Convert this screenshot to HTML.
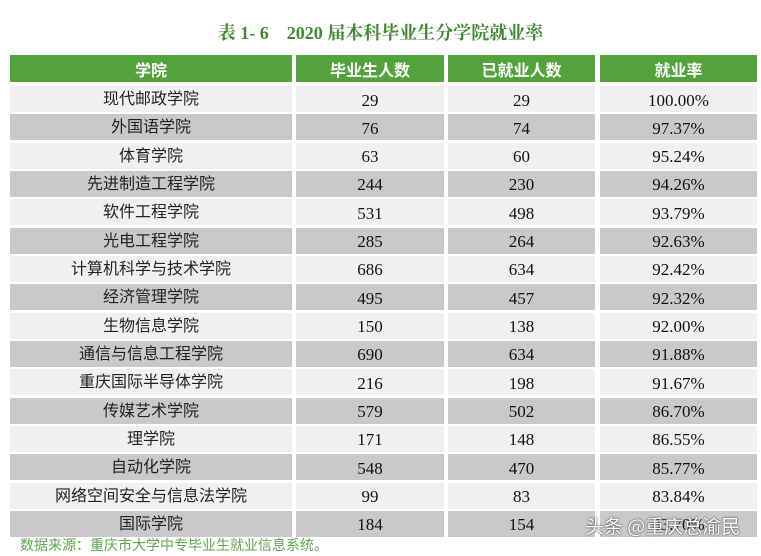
<!DOCTYPE html>
<html><head><meta charset="utf-8"><style>
body{margin:0;width:761px;height:556px;background:#fff;position:relative;overflow:hidden;font-family:"Liberation Serif","Noto Serif CJK SC",serif;}
.t{position:absolute;left:0;width:761px;top:24px;text-align:center;color:#3f8a2f;font-weight:bold;font-size:18px;line-height:1;}
.c{position:absolute;display:flex;align-items:center;justify-content:center;font-size:17px;color:#111;line-height:1;}
.h{background:#53a23c;color:#fff;font-weight:bold;font-family:"Noto Sans CJK SC",sans-serif;font-size:16px;}
.cn{font-family:"Noto Sans CJK SC",sans-serif;font-size:16px;color:#222;}
.cn span{position:relative;top:-3px;}
.f{position:absolute;left:20px;top:538px;color:#5aa84a;font-size:14px;line-height:1;font-family:"Noto Sans CJK SC",sans-serif;}
.w{position:absolute;left:585px;top:516px;color:#fff;font-size:19px;line-height:1;font-family:"Noto Sans CJK SC",sans-serif;text-shadow:0 0 2px #555,0 0 1px #333;}
</style></head><body>
<div class="t">表 1- 6　2020 届本科毕业生分学院就业率</div>
<div id="g"></div>
<div class="f">数据来源：重庆市大学中专毕业生就业信息系统。</div>
<div class="w">头条 @重庆总渝民</div>
<script>
var cols=[[10,282],[296,148],[448,147],[600,157]];
var hd=["学院","毕业生人数","已就业人数","就业率"];
var d=[["现代邮政学院",29,29,"100.00%"],["外国语学院",76,74,"97.37%"],["体育学院",63,60,"95.24%"],["先进制造工程学院",244,230,"94.26%"],["软件工程学院",531,498,"93.79%"],["光电工程学院",285,264,"92.63%"],["计算机科学与技术学院",686,634,"92.42%"],["经济管理学院",495,457,"92.32%"],["生物信息学院",150,138,"92.00%"],["通信与信息工程学院",690,634,"91.88%"],["重庆国际半导体学院",216,198,"91.67%"],["传媒艺术学院",579,502,"86.70%"],["理学院",171,148,"86.55%"],["自动化学院",548,470,"85.77%"],["网络空间安全与信息法学院",99,83,"83.84%"],["国际学院",184,154,"83.70%"]];
var h="";
cols.forEach(function(c,j){h+='<div class="c h" style="left:'+c[0]+'px;top:55px;width:'+c[1]+'px;height:27px">'+hd[j]+'</div>';});
d.forEach(function(r,i){var y=86+i*28.33;var bg=i%2?"#c9c9c9":"#f0f0f0";
cols.forEach(function(c,j){h+='<div class="c'+(j==0?' cn':'')+'" style="left:'+c[0]+'px;top:'+y+'px;width:'+c[1]+'px;height:26px;padding-top:2px;box-sizing:border-box;background:'+bg+'"><span>'+r[j]+'</span></div>';});});
document.getElementById("g").innerHTML=h;
</script>
</body></html>
